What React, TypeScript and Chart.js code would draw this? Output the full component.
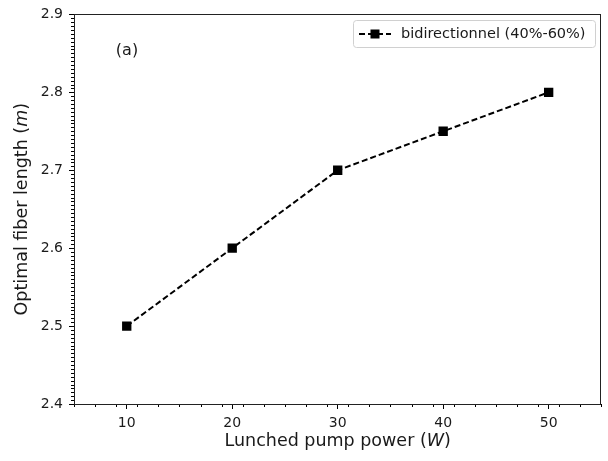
import React, { useEffect, useRef } from 'react';
import { Chart, registerables } from 'chart.js';

Chart.register(...registerables);

const powers = [10, 20, 30, 40, 50];
const fiberLengths = [2.5, 2.6, 2.7, 2.75, 2.8];
const seriesLabel = 'bidirectionnel (40%-60%)';
const xTicks = [10, 20, 30, 40, 50];
const yTicks = [2.4, 2.5, 2.6, 2.7, 2.8, 2.9];
const xMinorStep = 2;
const yMinorStep = 0.005;
const xTitleParts = ['Lunched pump power (', 'W', ')'];
const yTitleParts = ['Optimal fiber length (', 'm', ')'];
const panelLabel = '(a)';

const FONT = '"DejaVu Sans", sans-serif';
const INK = '#1a1a1a';

function drawRich(ctx: CanvasRenderingContext2D, parts: string[], cx: number, cy: number, size: number) {
  const fonts = parts.map((_, i) => (i === 1 ? `italic ${size}px ${FONT}` : `${size}px ${FONT}`));
  const widths = parts.map((p, i) => {
    ctx.font = fonts[i];
    return ctx.measureText(p).width;
  });
  const total = widths.reduce((a, b) => a + b, 0);
  let x = cx - total / 2;
  ctx.textBaseline = 'middle';
  ctx.textAlign = 'left';
  parts.forEach((p, i) => {
    ctx.font = fonts[i];
    ctx.fillText(p, x, cy);
    x += widths[i];
  });
}

const decorPlugin = {
  id: 'decor',
  afterDraw(chart: any) {
    const ctx: CanvasRenderingContext2D = chart.ctx;
    const { left, right, top, bottom } = chart.chartArea;
    const xs = chart.scales.x;
    const ys = chart.scales.y;
    ctx.save();
    // minor ticks
    ctx.strokeStyle = '#000';
    ctx.lineWidth = 1;
    ctx.beginPath();
    for (let v = xs.min; v <= xs.max + 1e-9; v += xMinorStep) {
      if (xTicks.some((t) => Math.abs(t - v) < 1e-6)) continue;
      const px = Math.round(xs.getPixelForValue(v)) + 0.5;
      ctx.moveTo(px, bottom);
      ctx.lineTo(px, bottom + 3);
    }
    const n = Math.round((ys.max - ys.min) / yMinorStep);
    for (let i = 0; i <= n; i++) {
      const v = ys.min + i * yMinorStep;
      if (yTicks.some((t) => Math.abs(t - v) < 1e-6)) continue;
      const py = Math.round(ys.getPixelForValue(v)) + 0.5;
      ctx.moveTo(left, py);
      ctx.lineTo(left - 3, py);
    }
    ctx.stroke();
    // frame
    ctx.strokeStyle = '#222';
    ctx.lineWidth = 1;
    ctx.strokeRect(Math.round(left) + 0.5, Math.round(top) + 0.5, Math.round(right - left) - 1, Math.round(bottom - top));

    // axis titles
    ctx.fillStyle = INK;
    drawRich(ctx, xTitleParts, (left + right) / 2, 441, 17.5);
    ctx.save();
    ctx.translate(22, (top + bottom) / 2);
    ctx.rotate(-Math.PI / 2);
    drawRich(ctx, yTitleParts, 0, 0, 17.5);
    ctx.restore();

    // panel label
    ctx.font = `16px ${FONT}`;
    ctx.textAlign = 'center';
    ctx.textBaseline = 'middle';
    ctx.fillText(panelLabel, 127, 51);

    // legend
    const ds = chart.data.datasets[0];
    const bx = 353.5, by = 20.5, bw = 242, bh = 27;
    ctx.beginPath();
    ctx.roundRect(bx, by, bw, bh, 3);
    ctx.fillStyle = 'rgba(255,255,255,0.8)';
    ctx.fill();
    ctx.strokeStyle = '#d0d0d0';
    ctx.stroke();
    const ly = 34;
    ctx.beginPath();
    ctx.setLineDash(ds.borderDash);
    ctx.strokeStyle = ds.borderColor;
    ctx.lineWidth = ds.borderWidth;
    ctx.moveTo(359, ly);
    ctx.lineTo(391, ly);
    ctx.stroke();
    ctx.setLineDash([]);
    ctx.fillStyle = ds.backgroundColor;
    ctx.fillRect(375 - 4.5, ly - 4.5, 9, 9);
    ctx.fillStyle = INK;
    ctx.font = `14.5px ${FONT}`;
    ctx.textAlign = 'left';
    ctx.textBaseline = 'middle';
    ctx.fillText(ds.label, 401, ly);
    ctx.restore();
  },
};

export default function App() {
  const ref = useRef<HTMLCanvasElement>(null);
  useEffect(() => {
    if (!ref.current) return;
    const chart = new Chart(ref.current, {
      type: 'line',
      data: {
        datasets: [
          {
            label: seriesLabel,
            data: powers.map((x, i) => ({ x, y: fiberLengths[i] })),
            borderColor: '#000',
            backgroundColor: '#000',
            borderDash: [6, 3],
            borderWidth: 2,
            pointStyle: 'rect',
            pointRadius: 6.6,
            pointBorderWidth: 0,
            tension: 0,
          },
        ],
      },
      options: {
        animation: false,
        responsive: false,
        devicePixelRatio: 1,
        layout: { padding: { top: 12, right: 6, left: 0, bottom: 0 } },
        plugins: { legend: { display: false }, tooltip: { enabled: false } },
        scales: {
          x: {
            type: 'linear',
            min: 5,
            max: 55,
            afterBuildTicks: (s: any) => {
              s.ticks = xTicks.map((value) => ({ value }));
            },
            afterFit: (s: any) => {
              s.height = 57;
            },
            ticks: { font: { family: FONT, size: 14 }, color: INK, padding: 6, maxRotation: 0 },
            grid: { drawOnChartArea: false, tickLength: 5, tickColor: '#000', tickWidth: 1 },
            border: { display: false },
          },
          y: {
            type: 'linear',
            min: 2.4,
            max: 2.9,
            afterBuildTicks: (s: any) => {
              s.ticks = yTicks.map((value) => ({ value }));
            },
            afterFit: (s: any) => {
              s.width = 74;
            },
            ticks: {
              font: { family: FONT, size: 14 },
              color: INK,
              padding: 6,
              callback: (v: any) => Number(v).toFixed(1),
            },
            grid: { drawOnChartArea: false, tickLength: 5, tickColor: '#000', tickWidth: 1 },
            border: { display: false },
          },
        },
      },
      plugins: [decorPlugin],
    } as any);
    return () => chart.destroy();
  }, []);
  return (
    <div style={{ position: 'fixed', left: 0, top: 0, width: 608, height: 461, background: '#fff' }}>
      <canvas ref={ref} width={608} height={461} />
    </div>
  );
}
